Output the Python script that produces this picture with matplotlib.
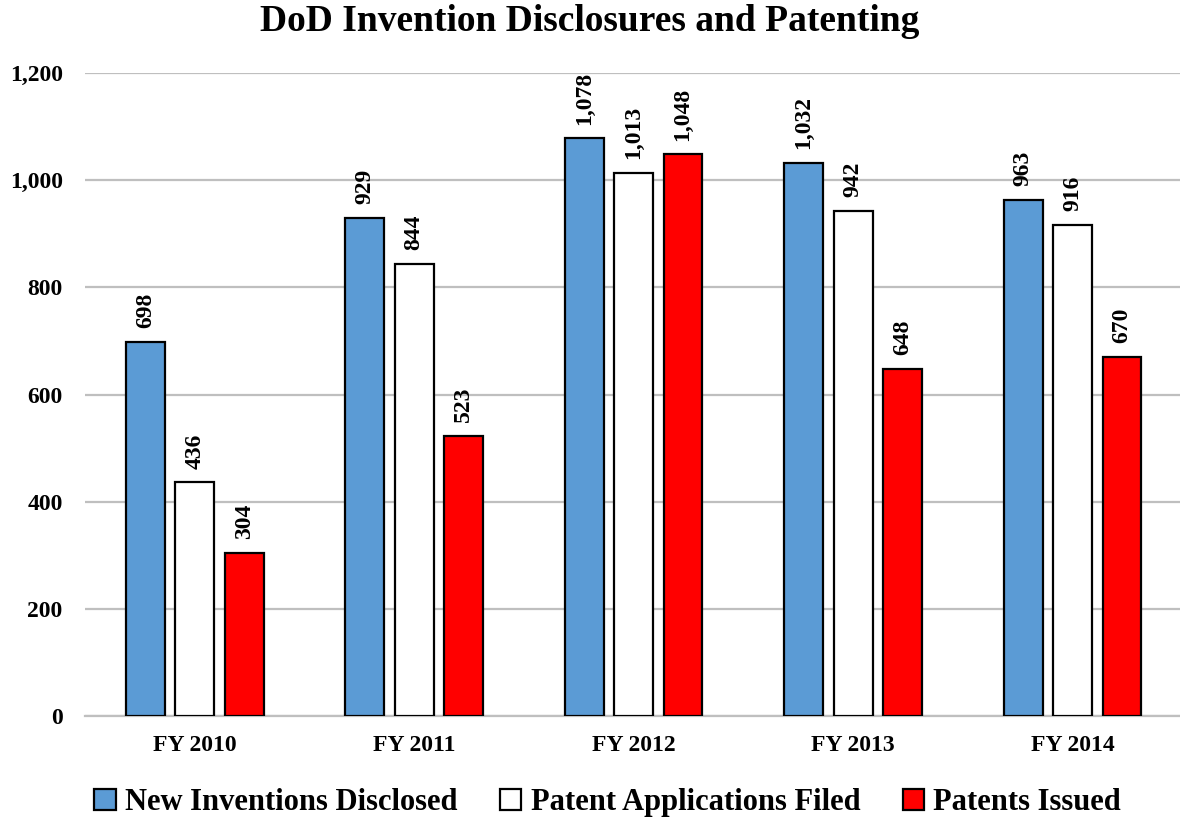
import numpy as np
import matplotlib.pyplot as plt
from matplotlib.patches import Patch

years = ["FY 2010", "FY 2011", "FY 2012", "FY 2013", "FY 2014"]
disclosed = [698, 929, 1078, 1032, 963]
applications = [436, 844, 1013, 942, 916]
issued = [304, 523, 1048, 648, 670]

series_names = ["New Inventions Disclosed", "Patent Applications Filed", "Patents Issued"]
colors = ["#5b9bd5", "#ffffff", "#ff0000"]

plt.rcParams["font.family"] = ["Liberation Serif", "DejaVu Serif"]
plt.rcParams["font.weight"] = "bold"

fig = plt.figure(figsize=(11.8, 8.17), dpi=100)
ax = fig.add_axes([0.072, 0.1236, 0.93, 0.787])

x = np.arange(len(years))
width = 0.177
offset = 0.225

for i, (vals, col) in enumerate(zip([disclosed, applications, issued], colors)):
    pos = x + (i - 1) * offset
    ax.bar(pos, vals, width=width, color=col, edgecolor="black", linewidth=1.6, zorder=3)
    for px, v in zip(pos, vals):
        ax.annotate(f"{v:,}", (px, v), xytext=(0, 10), textcoords="offset points",
                    rotation=90, ha="center", va="bottom",
                    fontsize=17, fontweight="bold", annotation_clip=False)

ax.set_xlim(-0.5, 4.5)
ax.set_ylim(0, 1200)
ax.set_yticks(range(0, 1201, 200))
ax.set_yticklabels([f"{v:,}" for v in range(0, 1201, 200)], fontsize=17, fontweight="bold")
ax.set_xticks(x)
ax.set_xticklabels(years, fontsize=17, fontweight="bold")
ax.tick_params(axis="both", length=0)
ax.tick_params(axis="y", pad=16)
ax.tick_params(axis="x", pad=14)

ax.grid(axis="y", color="#bfbfbf", linewidth=1.6, zorder=0)
for s in ["top", "right", "left"]:
    ax.spines[s].set_visible(False)
ax.spines["bottom"].set_color("#bfbfbf")
ax.spines["bottom"].set_linewidth(1.6)

fig.suptitle("DoD Invention Disclosures and Patenting", fontsize=27, fontweight="bold", y=0.995)

handles = [Patch(facecolor=c, edgecolor="black", linewidth=1.6) for c in colors]
fig.legend(handles, series_names, loc="lower center", ncol=3, frameon=False,
           bbox_to_anchor=(0.515, -0.034), prop={"size": 22, "weight": "bold"},
           handlelength=0.7, handleheight=0.7, handletextpad=0.3, columnspacing=1.4)

fig.savefig("out.png", dpi=100)
